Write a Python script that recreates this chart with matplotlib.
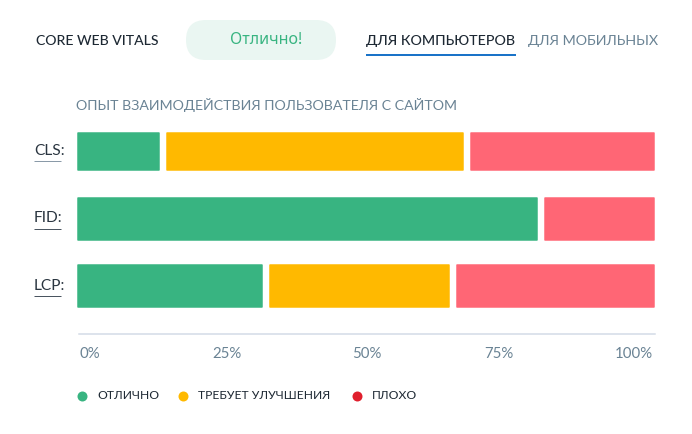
import matplotlib
matplotlib.use("Agg")
import matplotlib.pyplot as plt
from matplotlib.patches import FancyBboxPatch

plt.rcParams['font.family'] = ['Lato', 'Noto Sans', 'DejaVu Sans']

W, H = 692, 434
PX = 72 / 100  # one pixel in points at dpi 100

metrics = ["CLS:", "FID:", "LCP:"]
good = [14.85, 80.3, 32.7]
improve = [52.65, 0, 32.3]
poor = [32.5, 19.7, 35.0]
tick_labels = ["0%", "25%", "50%", "75%", "100%"]
legend_labels = ["ОТЛИЧНО", "ТРЕБУЕТ УЛУЧШЕНИЯ", "ПЛОХО"]

GREEN = "#38b481"
YELLOW = "#ffb900"
RED = "#ff6675"
DARK = "#1d2833"
SLATE = "#6a8394"

fig = plt.figure(figsize=(W / 100, H / 100), dpi=100, facecolor="white")

# chart axes, placed by pixel box: x 77..655, y 125..334
ax = fig.add_axes([77 / W, 1 - 334 / H, 578 / W, 209 / H])
ax.set_xlim(0, 100)
ax.set_ylim(334, 125)
ax.set_facecolor("none")

bar_y = [151, 218.5, 285.5]
bar_h = [37, 42, 42]
gap = 1.1
edge = 1.5 / 5.78 / 2

for y, h, vals in zip(bar_y, bar_h, zip(good, improve, poor)):
    left = 0
    for val, color in zip(vals, [GREEN, YELLOW, RED]):
        if val == 0:
            continue
        right = left + val
        x0 = left + (gap / 2 if left > 0 else 0) + edge
        x1 = right - (gap / 2 if right < 99.9 else 0) - edge
        ax.barh(y, x1 - x0, left=x0, height=h, color=color, edgecolor=color,
                linewidth=1.5 * PX, joinstyle="round")
        left = right

for s in ["top", "left", "right"]:
    ax.spines[s].set_visible(False)
ax.spines["bottom"].set_color("#d3dae6")
ax.spines["bottom"].set_linewidth(1.5 * PX)
ax.spines["bottom"].set_bounds(0.4, 100)
ax.set_yticks([])

# labels are spread edge to edge, so they sit a bit off the true positions
ax.set_xticks([0.4, 25.95, 50.2, 73, 99.7], tick_labels)
ax.tick_params(axis="x", length=0, pad=9, labelsize=15 * PX, labelcolor=SLATE)
tl = ax.get_xticklabels()
tl[0].set_ha("left")
tl[-1].set_ha("right")

# overlay in pixel coordinates for the header, labels and legend
ov = fig.add_axes([0, 0, 1, 1])
ov.set_xlim(0, W)
ov.set_ylim(H, 0)
ov.axis("off")
ov.set_facecolor("none")

ov.add_patch(FancyBboxPatch((186, 20), 150, 40, boxstyle="round,pad=0,rounding_size=20",
                            facecolor="#eaf6f2", edgecolor="none"))

ov.text(36, 41, "CORE WEB VITALS", fontsize=14 * PX, color=DARK, va="center", weight="medium")
ov.text(266, 40.5, "Отлично!", fontsize=16 * PX, color=GREEN, va="center", ha="center",
        family=["Noto Sans", "DejaVu Sans"])
ov.text(366, 41, "ДЛЯ КОМПЬЮТЕРОВ", fontsize=14.3 * PX, color=DARK, va="center", weight="medium")
ov.text(528, 41, "ДЛЯ МОБИЛЬНЫХ", fontsize=14.2 * PX, color=SLATE, va="center")
ov.plot([366, 516], [55, 55], color="#1a73c8", lw=2 * PX, solid_capstyle="butt")
ov.text(76, 105, "ОПЫТ ВЗАИМОДЕЙСТВИЯ ПОЛЬЗОВАТЕЛЯ С САЙТОМ", fontsize=14.15 * PX, color=SLATE, va="center")

for name, y, under in zip(metrics, bar_y, ["#8a9aa8", "#4a5560", "#4a5560"]):
    ov.text(34, y, name, fontsize=15.5 * PX, color="#2a3540", va="center")
    ov.plot([34, 61], [y + 10, y + 10], color=under, lw=1 * PX, solid_capstyle="butt")

for x, label, color in zip([82, 183, 357], legend_labels, [GREEN, YELLOW, "#e01f2d"]):
    ov.scatter([x], [395.5], s=(10 * PX) ** 2, color=color, linewidths=0)
    ov.text(x + 15, 395.5, label, fontsize=12.1 * PX, color=DARK, va="center")

fig.savefig("out.png", dpi=100)
